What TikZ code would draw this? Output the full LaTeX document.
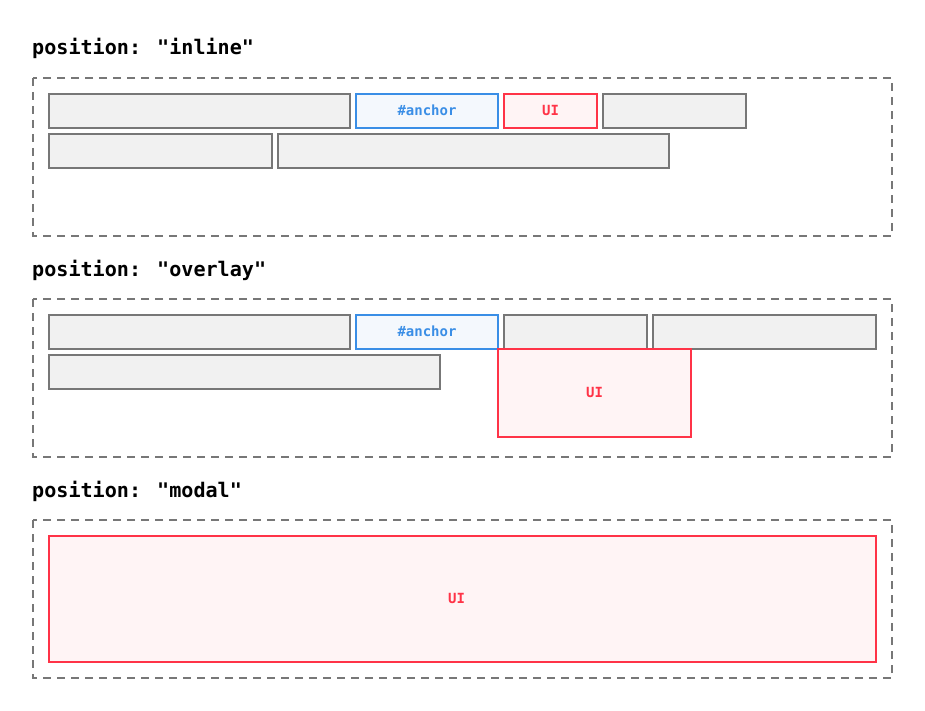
\documentclass[tikz,border=0pt]{standalone}
\usepackage{fontspec}
\newfontfamily\mono{DejaVu Sans Mono}
\definecolor{grayline}{HTML}{777777}
\definecolor{grayfill}{HTML}{F1F1F1}
\definecolor{blueline}{HTML}{3A8EE6}
\definecolor{bluefill}{HTML}{F4F8FD}
\definecolor{redline}{HTML}{FF3347}
\definecolor{redfill}{HTML}{FFF4F5}
\tikzset{
  title/.style={anchor=base west, inner sep=0pt, font=\mono\bfseries\fontsize{20.1}{22}\selectfont},
  frame/.style={draw=grayline, line width=1.8pt, dash pattern=on 8pt off 6pt},
  base/.style={anchor=north west, inner sep=0pt, outer sep=0pt, line width=1.8pt},
  gbox/.style={base, draw=grayline, fill=grayfill},
  abox/.style={base, draw=blueline, fill=bluefill, text=blueline, font=\mono\bfseries\fontsize{14}{16}\selectfont},
  ubox/.style={base, draw=redline, fill=redfill, text=redline, font=\mono\bfseries\fontsize{14}{16}\selectfont},
}
\begin{document}
\begin{tikzpicture}[x=1pt,y=-1pt]
\useasboundingbox (0,0) rectangle (925,711);
% Section 1
\node[title] (t1) at (32,55) {position: "inline"};
\draw[frame] (33,78) rectangle (892,236);
\node[gbox, minimum width=301pt, minimum height=34pt] (a1) at (49,94) {};
\node[abox, minimum width=142pt, minimum height=34pt] (anc1) at (356,94) {\raisebox{1pt}{\#anchor}};
\node[ubox, minimum width=93pt, minimum height=34pt] (ui1) at (504,94) {\raisebox{1pt}{UI}};
\node[gbox, minimum width=143pt, minimum height=34pt] (d1) at (603,94) {};
\node[gbox, minimum width=223pt, minimum height=34pt] (e1) at (49,134) {};
\node[gbox, minimum width=391pt, minimum height=34pt] (f1) at (278,134) {};
% Section 2
\node[title] (t2) at (32,276) {position: "overlay"};
\draw[frame] (33,299) rectangle (892,457);
\node[gbox, minimum width=301pt, minimum height=34pt] (a2) at (49,315) {};
\node[abox, minimum width=142pt, minimum height=34pt] (anc2) at (356,315) {\raisebox{1pt}{\#anchor}};
\node[gbox, minimum width=143pt, minimum height=34pt] (c2) at (504,315) {};
\node[gbox, minimum width=223pt, minimum height=34pt] (d2) at (653,315) {};
\node[gbox, minimum width=391pt, minimum height=34pt] (e2) at (49,355) {};
\node[ubox, minimum width=193pt, minimum height=88pt] (ui2) at (498,349) {\raisebox{1pt}{UI}};
% Section 3
\node[title] (t3) at (32,497) {position: "modal"};
\draw[frame] (33,520) rectangle (892,678);
\node[ubox, minimum width=827pt, minimum height=126pt] (ui3) at (49,536) {\raisebox{1pt}{UI}\kern12pt};
\end{tikzpicture}
\end{document}
